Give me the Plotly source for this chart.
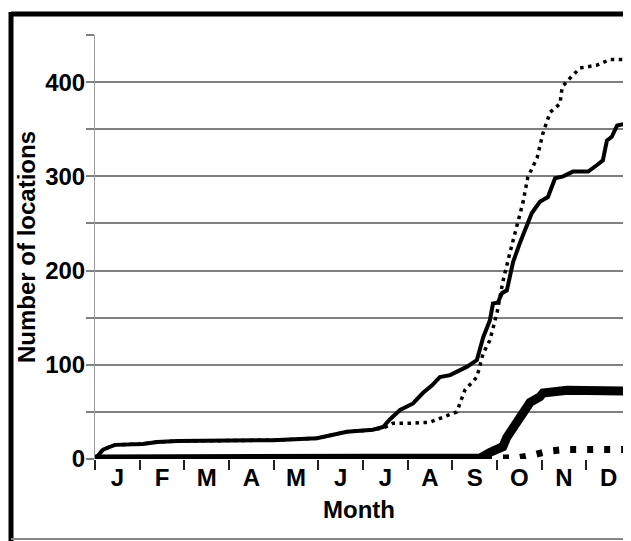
import plotly.graph_objects as go

months = ["J", "F", "M", "A", "M", "J", "J", "A", "S", "O", "N", "D"]

# x in months since Jan 1 (0..12)
solid_x = [0.0, 0.18, 0.34, 0.45, 1.07, 1.39, 1.84, 3.98, 4.97, 5.26, 5.64, 6.22, 6.45, 6.60, 6.83,
           7.12, 7.34, 7.54, 7.72, 7.95, 8.33, 8.55, 8.69, 8.84, 8.91, 9.02, 9.11, 9.22, 9.36, 9.51,
           9.69, 9.78, 9.96, 10.14, 10.30, 10.48, 10.70, 11.04, 11.24, 11.37, 11.46, 11.57, 11.69, 12.0]
solid_y = [0, 10, 13, 15, 16, 18, 19, 20, 22, 25, 29, 31, 34, 42, 52,
           59, 70, 78, 87, 89, 98, 105, 129, 147, 165, 166, 176, 179, 209, 229,
           250, 261, 273, 278, 298, 300, 305, 305, 312, 317, 338, 342, 354, 357]

dotted_x = [0.0, 0.18, 0.34, 0.45, 1.07, 1.39, 1.84, 3.98, 4.97, 5.26, 5.64, 6.22, 6.45, 6.60, 6.67,
            7.05, 7.50, 7.88, 8.10, 8.28, 8.55, 8.69, 8.84, 9.00, 9.13, 9.29, 9.45, 9.58, 9.69,
            9.90, 10.03, 10.19, 10.41, 10.46, 10.63, 10.86, 11.24, 11.53, 12.0]
dotted_y = [0, 10, 13, 15, 16, 18, 19, 20, 22, 25, 29, 31, 33, 36, 38,
            38, 39, 46, 50, 73, 87, 112, 126, 155, 188, 219, 250, 272, 299,
            320, 346, 368, 377, 395, 404, 415, 418, 424, 424]

thick_x = [0.0, 8.62, 8.84, 9.13, 9.22, 9.29, 9.45, 9.51, 9.63, 9.74, 9.96, 10.03, 10.57, 12.0]
thick_y = [0, 1, 7, 13, 23, 28, 39, 41, 50, 60, 66, 70, 73, 72]

bigdot_x = [0.0, 9.45, 9.78, 10.12, 10.48, 12.0]
bigdot_y = [0, 1, 4, 8, 10, 10]

yvals = [0, 50, 100, 150, 200, 250, 300, 350, 400, 450]
ylabels = ["0", "", "100", "", "200", "", "300", "", "400", ""]

# page body has an 8px margin and the drawable width is capped at 615px
OFF = 8
W, H = 615, 533
L, R, T = 95 - OFF, 0, 35 - OFF
B = H - (459 - OFF)
pw, ph = W - L - R, H - T - B
MONTH_PX = 536 / 12.0          # width of one month in the original chart
XMAX = pw / MONTH_PX           # visible part of the year

def px(x):  # page pixel -> paper
    return (x - OFF - L) / pw

def py(y):
    return (H - B - (y - OFF)) / ph

fig = go.Figure()
fig.add_trace(go.Scatter(x=bigdot_x, y=bigdot_y, mode="lines",
                         line=dict(color="black", width=7, dash="6px,11px")))
fig.add_trace(go.Scatter(x=thick_x, y=thick_y, mode="lines",
                         line=dict(color="black", width=9)))
fig.add_trace(go.Scatter(x=dotted_x, y=dotted_y, mode="lines",
                         line=dict(color="black", width=3.5, dash="3.5px,4.5px")))
fig.add_trace(go.Scatter(x=solid_x, y=solid_y, mode="lines",
                         line=dict(color="black", width=4)))

font = dict(family="Liberation Sans, Arial", size=24, color="black", weight="bold")

fig.update_layout(
    width=W, height=H,
    margin=dict(l=L, r=R, t=T, b=B, autoexpand=False),
    paper_bgcolor="white", plot_bgcolor="white",
    showlegend=False,
    xaxis=dict(range=[0, XMAX], tickmode="array", tickvals=[i + 0.5 for i in range(12)],
               ticktext=months, ticks="", showgrid=False, zeroline=False, showline=False,
               tickfont=font, ticklabelstandoff=2,
               minor=dict(tickmode="array", tickvals=list(range(13)), ticks="outside",
                          ticklen=10, tickwidth=2, tickcolor="#222", showgrid=False),
               title=dict(text="\u00a0\u00a0\u00a0Month", font=font, standoff=11), automargin=False),
    yaxis=dict(range=[0, 450], tickmode="array", tickvals=yvals, ticktext=ylabels,
               ticks="outside", ticklen=8, tickwidth=2, tickcolor="#808080",
               showgrid=True, gridcolor="#808080", gridwidth=2, zeroline=False,
               showline=True, linecolor="#999999", linewidth=1,
               tickfont=font, ticklabelstandoff=-4,
               title=dict(text="Number of locations", font=font, standoff=2),
               automargin=False),
    shapes=[
        dict(type="line", xref="paper", yref="paper", x0=px(11), x1=px(660), y0=py(14), y1=py(14),
             line=dict(color="black", width=5)),
        dict(type="line", xref="paper", yref="paper", x0=px(11), x1=px(11), y0=py(12), y1=py(560),
             line=dict(color="black", width=5)),
        dict(type="line", xref="paper", yref="paper", x0=px(11), x1=px(660), y0=py(539), y1=py(539),
             line=dict(color="#888888", width=2)),
    ],
)

fig.write_html("out.html")
